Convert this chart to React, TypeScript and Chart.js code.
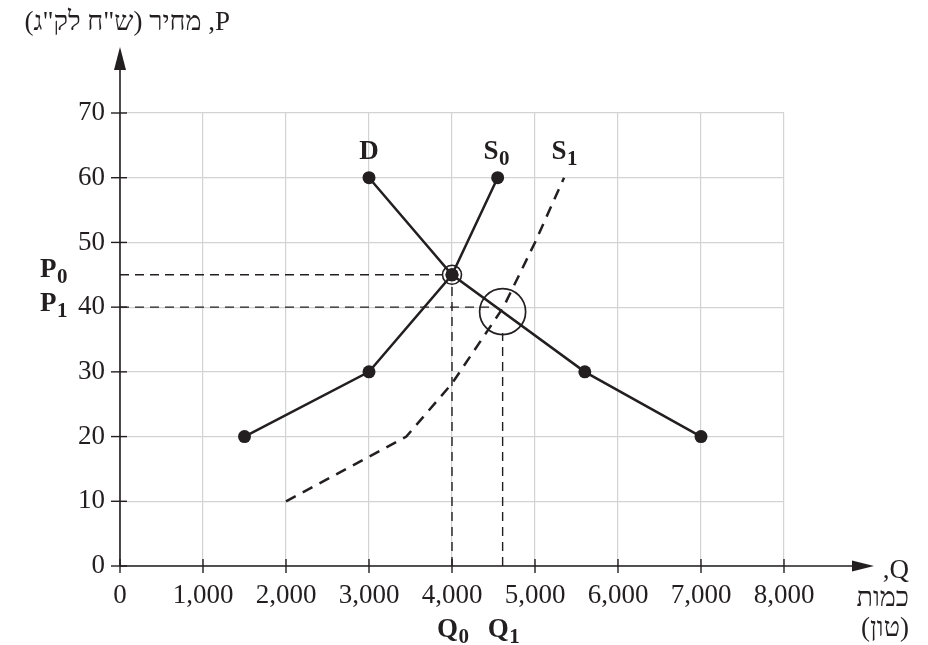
import { useEffect, useRef } from "react";
import { Chart, registerables } from "chart.js";

Chart.register(...registerables);

const INK = "#231f20";
const GRID = "#d1d3d4";
const FONT = "'Liberation Serif', 'Times New Roman', serif";

// axis ticks
const xTicks = [0, 1000, 2000, 3000, 4000, 5000, 6000, 7000, 8000];
const yTicks = [0, 10, 20, 30, 40, 50, 60, 70];

// demand curve D
const demandQ = [3000, 4000, 5600, 7000];
const demandP = [60, 45, 30, 20];

// supply curve S0
const supply0Q = [1500, 3000, 4000, 4550];
const supply0P = [20, 30, 45, 60];

// supply curve S1 (dashed)
const supply1Q = [2000, 3450, 4000, 4620, 5000, 5350];
const supply1P = [10, 20, 28.2, 40, 50, 60];

// equilibria
const eqQ = [4000, 4610];
const eqP = [45, 39.3];

// dashed guide lines [fromQ, fromP, toQ, toP]
const guideP0 = [0, 45, 3880, 45];
const guideQ0 = [4000, 0, 4000, 43.4];
const guideP1 = [0, 40, 4450, 40];
const guideQ1 = [4610, 0, 4610, 36];

const titleText = 'P, מחיר (ש"ח לק"ג)';
const xTitleLines = ["Q,", "כמות", "(טון)"];

const pts = (qs: number[], ps: number[]) => qs.map((q, i) => ({ x: q, y: ps[i] }));
const seg = (g: number[]) => [
  { x: g[0], y: g[1] },
  { x: g[2], y: g[3] },
];

function subLabel(ctx: CanvasRenderingContext2D, main: string, sub: string, left: number, baseline: number, size: number) {
  ctx.font = `bold ${size}px ${FONT}`;
  ctx.textAlign = "left";
  ctx.textBaseline = "alphabetic";
  ctx.fillText(main, left, baseline);
  const w = ctx.measureText(main).width;
  if (sub) {
    ctx.font = `bold ${Math.round(size * 0.76)}px ${FONT}`;
    ctx.fillText(sub, left + w + 0.5, baseline + 6);
  }
}

const overlay = {
  id: "overlay",
  afterDraw(chart: any) {
    const ctx: CanvasRenderingContext2D = chart.ctx;
    const xs = chart.scales.x;
    const ys = chart.scales.y;
    const area = chart.chartArea;
    const x0 = xs.getPixelForValue(0);
    const y0 = ys.getPixelForValue(0);
    ctx.save();
    ctx.strokeStyle = INK;
    ctx.fillStyle = INK;
    ctx.lineWidth = 1.6;
    // y axis + arrow
    const yTip = area.top - 66;
    ctx.beginPath();
    ctx.moveTo(x0, y0);
    ctx.lineTo(x0, yTip + 10);
    ctx.stroke();
    ctx.beginPath();
    ctx.moveTo(x0, yTip);
    ctx.lineTo(x0 - 6, yTip + 23);
    ctx.lineTo(x0 + 6, yTip + 23);
    ctx.closePath();
    ctx.fill();
    // x axis + arrow
    const xTip = area.right + 90;
    ctx.beginPath();
    ctx.moveTo(x0, y0);
    ctx.lineTo(xTip - 10, y0);
    ctx.stroke();
    ctx.beginPath();
    ctx.moveTo(xTip, y0);
    ctx.lineTo(xTip - 22, y0 - 5.5);
    ctx.lineTo(xTip - 22, y0 + 5.5);
    ctx.closePath();
    ctx.fill();
    // crossing ticks
    ctx.lineWidth = 1.4;
    xTicks.forEach((v) => {
      const px = xs.getPixelForValue(v);
      ctx.beginPath();
      ctx.moveTo(px, y0 - 7);
      ctx.lineTo(px, y0 + 7);
      ctx.stroke();
    });
    yTicks.forEach((v) => {
      const py = ys.getPixelForValue(v);
      ctx.beginPath();
      ctx.moveTo(x0 - 9, py);
      ctx.lineTo(x0 + 7, py);
      ctx.stroke();
    });

    // curve labels
    const top = ys.getPixelForValue(60) - 19;
    ctx.font = `bold 27px ${FONT}`;
    ctx.textAlign = "center";
    ctx.textBaseline = "alphabetic";
    ctx.fillText("D", xs.getPixelForValue(demandQ[0]), top);
    subLabel(ctx, "S", "0", xs.getPixelForValue(4380), top, 27);
    subLabel(ctx, "S", "1", xs.getPixelForValue(5200), top, 27);
    // price labels
    subLabel(ctx, "P", "0", 40, ys.getPixelForValue(guideP0[1]) + 2, 27);
    subLabel(ctx, "P", "1", 40, ys.getPixelForValue(guideP1[1]) + 4, 27);
    // quantity labels
    subLabel(ctx, "Q", "0", xs.getPixelForValue(guideQ0[0]) - 15, 637, 27);
    subLabel(ctx, "Q", "1", xs.getPixelForValue(guideQ1[0]) - 15, 637, 27);

    // axis titles (Hebrew, RTL)
    ctx.direction = "rtl";
    ctx.textAlign = "right";
    ctx.font = `27px ${FONT}`;
    ctx.fillText(titleText, 230, 30);
    ctx.fillText(xTitleLines[0], 909, 578);
    ctx.fillText(xTitleLines[1], 909, 606);
    ctx.fillText(xTitleLines[2], 909, 636);
    ctx.restore();
  },
};

export default function App() {
  const ref = useRef<HTMLCanvasElement | null>(null);

  useEffect(() => {
    if (!ref.current) return;
    const solid = {
      showLine: true,
      borderColor: INK,
      borderWidth: 2.5,
      pointRadius: 6.5,
      pointBackgroundColor: INK,
      pointBorderColor: INK,
      pointBorderWidth: 0,
      tension: 0,
    };
    const guide = {
      showLine: true,
      borderColor: INK,
      borderWidth: 1.4,
      borderDash: [9, 6],
      pointRadius: 0,
    };
    const chart = new Chart(ref.current, {
      type: "scatter",
      data: {
        datasets: [
          { label: "D", data: pts(demandQ, demandP), ...solid },
          { label: "S0", data: pts(supply0Q, supply0P), ...solid },
          {
            label: "S1",
            data: pts(supply1Q, supply1P),
            showLine: true,
            borderColor: INK,
            borderWidth: 2.5,
            borderDash: [11, 8],
            pointRadius: 0,
          },
          { label: "P0", data: seg(guideP0), ...guide },
          { label: "Q0", data: seg(guideQ0), ...guide },
          { label: "P1", data: seg(guideP1), ...guide },
          { label: "Q1", data: seg(guideQ1), ...guide },
          {
            label: "E0",
            data: [{ x: eqQ[0], y: eqP[0] }],
            pointRadius: 9.5,
            pointBackgroundColor: "rgba(0,0,0,0)",
            pointBorderColor: INK,
            pointBorderWidth: 1.6,
          },
          {
            label: "E1",
            data: [{ x: eqQ[1], y: eqP[1] }],
            pointRadius: 23,
            pointBackgroundColor: "rgba(0,0,0,0)",
            pointBorderColor: INK,
            pointBorderWidth: 1.7,
          },
        ],
      },
      options: {
        animation: false,
        responsive: false,
        devicePixelRatio: 1,
        layout: { padding: { top: 113, right: 144, left: 0, bottom: 0 } },
        plugins: { legend: { display: false }, tooltip: { enabled: false } },
        scales: {
          x: {
            type: "linear",
            min: 0,
            max: 8000,
            afterFit: (s: any) => {
              s.height = 79;
            },
            afterBuildTicks: (s: any) => {
              s.ticks = xTicks.map((v) => ({ value: v }));
            },
            grid: { color: GRID, lineWidth: 1.2, drawTicks: false },
            border: { display: false },
            ticks: {
              padding: 14,
              color: INK,
              font: { family: FONT, size: 27 },
              callback: (v: any) => Number(v).toLocaleString("en-US"),
            },
          },
          y: {
            type: "linear",
            min: 0,
            max: 70,
            afterFit: (s: any) => {
              s.width = 120;
            },
            afterBuildTicks: (s: any) => {
              s.ticks = yTicks.map((v) => ({ value: v }));
            },
            grid: { color: GRID, lineWidth: 1.2, drawTicks: false },
            border: { display: false },
            ticks: {
              padding: 15,
              color: INK,
              font: { family: FONT, size: 27 },
            },
          },
        },
      },
      plugins: [overlay],
    } as any);
    return () => chart.destroy();
  }, []);

  return (
    <div style={{ position: "absolute", left: 0, top: 0, width: 928, height: 645, background: "#fff" }}>
      <canvas ref={ref} width={928} height={645} />
    </div>
  );
}
